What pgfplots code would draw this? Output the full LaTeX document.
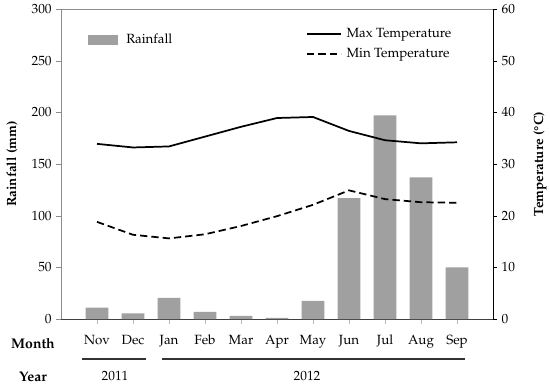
\documentclass[border=0pt]{standalone}
\usepackage[T1]{fontenc}
\usepackage{mathpazo}
\usepackage{pgfplots}
\pgfplotsset{compat=1.18}
\definecolor{barg}{HTML}{A0A0A0}
\definecolor{axg}{HTML}{8C8C8C}
\pgfplotstableread{
x rain tmax tmin
0 11 33.9 18.8
1 5.5 33.2 16.3
2 20.5 33.4 15.6
3 7 35.3 16.4
4 3 37.2 18.0
5 1 38.9 19.9
6 17.5 39.1 22.1
7 117 36.4 24.9
8 197 34.6 23.2
9 137 34.0 22.6
10 50 34.2 22.5
}\datatable
\begin{document}
\begin{tikzpicture}
\useasboundingbox (0pt,0pt) rectangle (412.5pt,290.25pt);
\pgfplotsset{every axis/.append style={font=\fontsize{10}{12}\selectfont}}
\begin{axis}[at={(45.75pt,51pt)}, anchor=south west, scale only axis,
  width=324pt, height=232.5pt,
  xmin=-1, xmax=11, ymin=0, ymax=300, ytick={0,50,...,300},
  axis x line*=bottom, axis y line*=left,
  x axis line style={black!75,-}, y axis line style={axg,-},
  xtick={0,...,10},
  xticklabels={Nov,Dec,Jan,Feb,Mar,Apr,May,Jun,Jul,Aug,Sep},
  tick align=outside, major tick length=3.5pt,
  x tick style={axg!60}, y tick style={axg},
  xticklabel style={yshift=-5pt},
  clip=false,
  legend style={at={(0.0625,0.9)}, anchor=west, draw=none, fill=none, inner sep=0pt,
    font=\fontsize{10}{12}\selectfont},
  legend cell align=left,
  legend image code/.code={\fill[barg] (0pt,-3.75pt) rectangle (22.5pt,3.75pt); \path (26.5pt,0pt);},
]
\addplot[ybar, bar width=17pt, fill=barg, draw=none] table[x=x,y=rain]{\datatable};
\addlegendentry{Rainfall}
\draw[axg] (rel axis cs:0,1) -- (rel axis cs:1,1);
\end{axis}
\begin{axis}[at={(45.75pt,51pt)}, anchor=south west, scale only axis,
  width=324pt, height=232.5pt,
  xmin=-1, xmax=11, ymin=0, ymax=60, ytick={0,10,...,60},
  axis x line=none, axis y line*=right,
  y axis line style={black,-},
  tick align=outside, major tick length=3pt, y tick style={black},
  legend style={at={(0.567,0.887)}, anchor=west, draw=none, fill=none, inner sep=0pt,
    row sep=3pt, font=\fontsize{10}{12}\selectfont},
  legend cell align=left,
  legend image code/.code={\draw[#1] (0pt,0pt) -- (25.5pt,0pt); \path (27pt,0pt);},
]
\addplot[black, line width=1.3pt] table[x=x,y=tmax]{\datatable};
\addlegendentry{Max Temperature}
\addplot[black, line width=1.3pt, dash pattern=on 5.5pt off 3pt] table[x=x,y=tmin]{\datatable};
\addlegendentry{Min Temperature}
\end{axis}
\begin{scope}[x=0.75pt,y=0.75pt]
\node[rotate=90, font=\fontsize{10}{12}\selectfont\bfseries] at (12,223) {Rainfall (mm)};
\node[rotate=90, font=\fontsize{10}{12}\selectfont\bfseries] at (540,223) {Temperature (\textdegree C)};
\node[font=\fontsize{10.5}{12}\selectfont\bfseries] at (33,43) {Month};
\node[font=\fontsize{10.5}{12}\selectfont\bfseries] at (33,10) {Year};
\draw[black!80, line width=0.8pt] (82,28) -- (146,28);
\draw[black!80, line width=0.8pt] (162,28) -- (465,28);
\node[font=\fontsize{10}{12}\selectfont] at (115,11) {2011};
\node[font=\fontsize{10}{12}\selectfont] at (307,11) {2012};
\end{scope}
\end{tikzpicture}
\end{document}
